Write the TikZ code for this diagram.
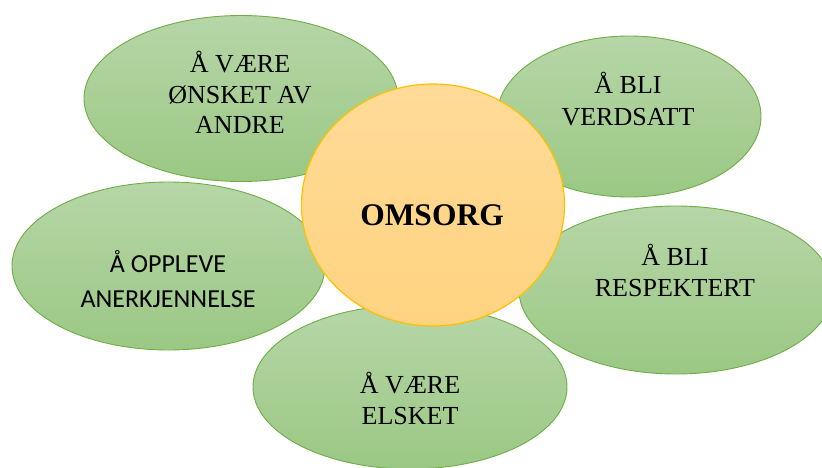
\documentclass[tikz,border=0pt]{standalone}
\usepackage{fontspec}
\setmainfont{Liberation Serif}
\newfontfamily\calib{Carlito}
\usetikzlibrary{shapes.geometric}
\definecolor{gtop}{RGB}{182,214,167}
\definecolor{gbot}{RGB}{155,200,132}
\definecolor{gline}{RGB}{112,173,71}
\definecolor{otop}{RGB}{255,219,152}
\definecolor{obot}{RGB}{255,211,128}
\definecolor{oline}{RGB}{255,192,0}
\tikzset{
  petal/.style={ellipse, draw=gline, line width=0.9pt, top color=gtop, bottom color=gbot, inner sep=0pt},
  core/.style={ellipse, draw=oline, line width=1.2pt, top color=otop, bottom color=obot, inner sep=0pt},
  lbl/.style={anchor=base, inner sep=0pt, font=\fontsize{26}{31}\selectfont},
  slbl/.style={anchor=base, inner sep=0pt, font=\calib\fontsize{26}{31}\selectfont},
  blbl/.style={anchor=base, inner sep=0pt, font=\bfseries\fontsize{31.5}{36}\selectfont}
}
\begin{document}
\begin{tikzpicture}[x=1pt,y=-1pt]
\useasboundingbox (0,0) rectangle (822,468);
\begin{scope}
\clip (0,0) rectangle (822,468);
\node[petal, minimum width=314pt, minimum height=166pt] (tl) at (241,98.5) {};
\node[petal, minimum width=264pt, minimum height=161pt] (tr) at (629,116.5) {};
\node[petal, minimum width=313pt, minimum height=168pt] (le) at (168.5,266) {};
\node[petal, minimum width=314pt, minimum height=168pt] (ri) at (676,290) {};
\node[petal, minimum width=314pt, minimum height=164pt] (bo) at (410,387) {};
\node[core, minimum width=263pt, minimum height=242pt] (c) at (433,205) {};
\end{scope}
\node[lbl] (tl1) at (240,73) {Å VÆRE};
\node[lbl] (tl2) at (240,104) {ØNSKET AV};
\node[lbl] (tl3) at (240,134) {ANDRE};
\node[lbl] (tr1) at (628,94) {Å BLI};
\node[lbl] (tr2) at (628,126) {VERDSATT};
\node[slbl] (le1) at (168,272) {Å OPPLEVE};
\node[slbl] (le2) at (168,307) {ANERKJENNELSE};
\node[lbl] (ri1) at (675,265) {Å BLI};
\node[lbl] (ri2) at (675,296) {RESPEKTERT};
\node[lbl] (bo1) at (410,393) {Å VÆRE};
\node[lbl] (bo2) at (410,424) {ELSKET};
\node[blbl] (ct) at (432,225) {OMSORG};
\end{tikzpicture}
\end{document}
